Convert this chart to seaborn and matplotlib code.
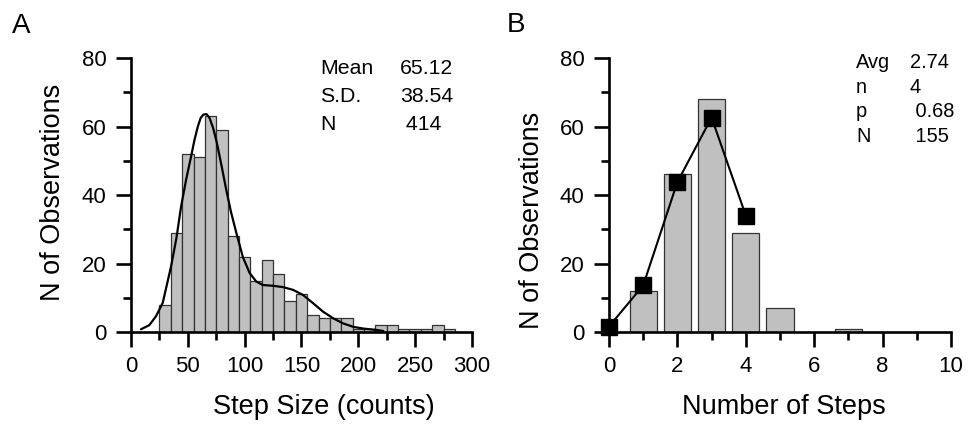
import numpy as np
import matplotlib
matplotlib.use("Agg")
import matplotlib.pyplot as plt
import seaborn as sns
from matplotlib.ticker import MultipleLocator

# ---------------- Panel A data ----------------
step_bin_centers = [30, 40, 50, 60, 70, 80, 90, 100, 110, 120, 130, 140, 150,
                    160, 170, 180, 190, 200, 210, 220, 230, 240, 250, 260, 270, 280]
step_counts = [8, 29, 52, 51, 63, 59, 28, 22, 15, 21, 17, 9, 11,
               5, 4, 4, 4, 1, 1, 2, 2, 1, 1, 1, 2, 1]
step_bin_width = 10
fit_curve_x = [8.8, 16.1, 22.0, 27.9, 35.3, 40.0, 44.1, 48.5, 52.9, 55.8, 58.8, 61.3,
               63.8, 66.5, 69.1, 72.3, 75.5, 79.5, 83.8, 88.0, 92.6, 98.5, 104.4,
               110.3, 116.2, 125.0, 133.8, 142.6, 151.4, 160.2, 169.1, 177.9, 186.7,
               195.6, 204.4, 216.0, 222.0]
fit_curve_y = [0.8, 2.0, 4.6, 8.5, 19.2, 27.5, 36.7, 44.5, 51.3, 56.0, 60.0, 62.5,
               63.5, 63.6, 62.5, 59.5, 55.3, 48.8, 41.5, 35.0, 29.0, 21.8, 17.2,
               14.7, 13.7, 13.5, 13.1, 12.3, 10.8, 8.4, 5.9, 4.0, 2.5,
               1.5, 1.0, 0.6, 0.3]
stats_a_labels = ["Mean", "S.D.", "N"]
stats_a_values = ["65.12", "38.54", " 414"]

# ---------------- Panel B data ----------------
num_steps = [1, 2, 3, 4, 5, 7]
num_steps_counts = [12, 46, 68, 29, 7, 1]
fit_steps = [0, 1, 2, 3, 4]
fit_steps_counts = [1.6, 13.6, 43.8, 62.6, 34.0]
stats_b_labels = ["Avg", "n", "p", "N"]
stats_b_values = ["2.74", "4", " 0.68", " 155"]

# ---------------- Style ----------------
sns.set_style("ticks")
plt.rcParams["font.family"] = ["Liberation Sans", "DejaVu Sans"]
for key in ("text.color", "axes.labelcolor", "xtick.color", "ytick.color", "axes.edgecolor"):
    plt.rcParams[key] = "black"

W, H = 970, 426
fig = plt.figure(figsize=(W / 100, H / 100), dpi=100)

def px_axes(left, top, right, bottom):
    return fig.add_axes([left / W, 1 - bottom / H, (right - left) / W, (bottom - top) / H])

axA = px_axes(131, 58, 472, 332)
axB = px_axes(609, 58, 951, 332)

bar_face = "#c0c0c0"
bar_edge = "#333333"

# Panel A histogram
edges = [c - step_bin_width / 2 for c in step_bin_centers] + [step_bin_centers[-1] + step_bin_width / 2]
sns.histplot(x=step_bin_centers, weights=step_counts, bins=edges, ax=axA,
             color=bar_face, edgecolor=bar_edge, linewidth=0.9, alpha=1)
sns.lineplot(x=fit_curve_x, y=fit_curve_y, ax=axA, color="black", linewidth=1.6)

# Panel B histogram + binomial fit
sns.histplot(x=num_steps, weights=num_steps_counts, discrete=True, shrink=0.8, ax=axB,
             color=bar_face, edgecolor=bar_edge, linewidth=0.9, alpha=1)
sns.lineplot(x=fit_steps, y=fit_steps_counts, ax=axB, color="black", linewidth=1.5,
             marker="s", markersize=12, markeredgecolor="black", markeredgewidth=1)
for ln in axB.lines:
    ln.set_clip_on(False)
    ln.set_zorder(5)

# Axes formatting
for ax in (axA, axB):
    sns.despine(ax=ax)
    ax.set_ylim(0, 80)
    ax.yaxis.set_major_locator(MultipleLocator(20))
    ax.yaxis.set_minor_locator(MultipleLocator(10))
    for s in ("left", "bottom"):
        ax.spines[s].set_linewidth(1.9)
        ax.spines[s].set_color("black")
    ax.tick_params(which="major", direction="out", length=10.5, width=1.9,
                   labelsize=16, pad=7, color="black", labelcolor="black")
    ax.tick_params(which="minor", direction="out", length=5.5, width=1.9, color="black")
    ax.set_ylabel("N of Observations", fontsize=19.5, color="black")
    ax.yaxis.label.set_va("baseline")

axA.set_xlim(0, 300)
axA.xaxis.set_major_locator(MultipleLocator(50))
axA.xaxis.set_minor_locator(MultipleLocator(25))
axA.set_xlabel("Step Size (counts)", fontsize=19.5, color="black")

axB.set_xlim(0, 10)
axB.xaxis.set_major_locator(MultipleLocator(2))
axB.xaxis.set_minor_locator(MultipleLocator(1))
axB.set_xlabel("Number of Steps", fontsize=19.5, color="black")

for ax in (axA, axB):
    ax.xaxis.label.set_va("baseline")

axA.xaxis.set_label_coords((324 - 131) / 341, (332 - 414) / 274)
axB.xaxis.set_label_coords((783.5 - 609) / 342, (332 - 414) / 274)
axA.yaxis.set_label_coords((60 - 131) / 341, (332 - 192.5) / 274)
axB.yaxis.set_label_coords((539 - 609) / 342, (332 - 220) / 274)

# Panel letters
fig.text(12 / W, 1 - 33 / H, "A", fontsize=20, va="baseline", ha="left", color="black")
fig.text(507 / W, 1 - 32 / H, "B", fontsize=20, va="baseline", ha="left", color="black")

# Stats text
for i, (lab, val) in enumerate(zip(stats_a_labels, stats_a_values)):
    yb = 74.5 + i * 28
    fig.text(320 / W, 1 - yb / H, lab, fontsize=15.3, va="baseline", ha="left", color="black")
    fig.text(400 / W, 1 - yb / H, val, fontsize=15.3, va="baseline", ha="left", color="black")

for i, (lab, val) in enumerate(zip(stats_b_labels, stats_b_values)):
    yb = 68 + i * 24.6
    fig.text(856 / W, 1 - yb / H, lab, fontsize=14.4, va="baseline", ha="left", color="black")
    fig.text(910 / W, 1 - yb / H, val, fontsize=14.4, va="baseline", ha="left", color="black")

fig.savefig("out.png", dpi=100)
